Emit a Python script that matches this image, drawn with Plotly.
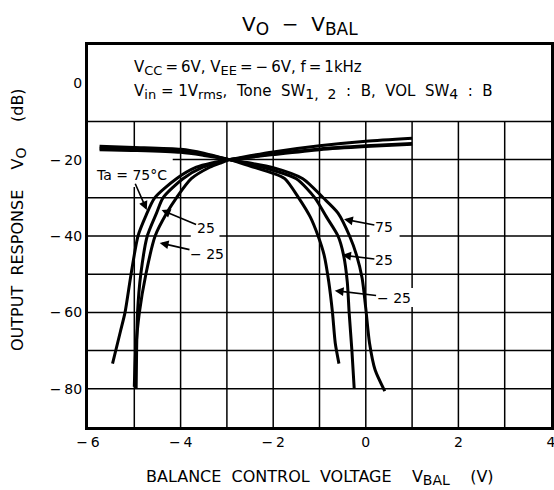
import plotly.graph_objects as go

# ---------------- data ----------------
# Right-channel curves: flat on the left, falling on the right
r75_x = [-5.75, -5.0, -4.0, -3.5, -2.95, -2.5, -2.0, -1.36, -0.92, -0.6, -0.35, -0.2, -0.08, 0.0, 0.08, 0.2, 0.41]
r75_y = [-16.5, -16.8, -17.3, -18.3, -20.0, -20.9, -22.1, -25.0, -30.0, -34.0, -40.0, -45.0, -51.0, -59.0, -68.0, -75.0, -80.6]
r25_x = [-5.75, -5.0, -4.0, -3.5, -2.95, -2.5, -2.0, -1.5, -1.1, -0.85, -0.6, -0.48, -0.4, -0.36, -0.3, -0.25]
r25_y = [-17.0, -17.2, -17.7, -18.6, -20.0, -21.2, -22.8, -25.0, -30.0, -35.0, -40.0, -45.0, -52.0, -60.0, -70.0, -80.0]
rm25_x = [-5.75, -5.0, -4.0, -3.5, -2.95, -2.5, -2.0, -1.75, -1.45, -1.2, -1.03, -0.9, -0.8, -0.72, -0.66, -0.58]
rm25_y = [-17.4, -17.6, -18.1, -18.9, -20.0, -21.7, -23.6, -25.0, -30.0, -35.0, -40.0, -45.0, -52.0, -60.0, -68.0, -73.4]

# Left-channel curves: rising on the left, flat on the right
l75_x = [-5.47, -5.3, -5.2, -5.07, -4.92, -4.76, -4.56, -4.09, -3.66, -3.3, -2.95, -2.5, -2.0, -1.0, 0.0, 1.0]
l75_y = [-73.4, -65.0, -60.0, -50.0, -40.0, -35.0, -30.0, -25.0, -22.0, -20.8, -20.0, -19.0, -18.0, -16.4, -15.2, -14.4]
l25_x = [-4.96, -4.95, -4.93, -4.86, -4.72, -4.52, -4.38, -3.95, -3.52, -3.2, -2.95, -2.5, -2.0, -1.0, 0.0, 1.0]
l25_y = [-79.9, -70.0, -60.0, -50.0, -40.0, -34.0, -30.0, -25.0, -22.0, -20.8, -20.0, -19.3, -18.5, -17.2, -16.4, -15.8]
lm25_x = [-5.0, -4.97, -4.89, -4.75, -4.55, -4.3, -4.09, -3.77, -3.37, -3.1, -2.95, -2.5, -2.0, -1.0, 0.0, 1.0]
lm25_y = [-79.5, -70.0, -60.0, -50.0, -40.0, -34.0, -30.0, -25.0, -22.0, -20.7, -20.0, -19.4, -18.7, -17.4, -16.6, -16.0]

x_tickvals = [-6, -4, -2, 0, 2, 4]
x_ticktext = ["\u2212\u20096", "\u2212\u20094", "\u2212\u20092", "0", "2", "4"]
y_tickvals = [0, -20, -40, -60, -80]
y_ticktext = ["0", "\u2212\u200920", "\u2212\u200940", "\u2212\u200960", "\u2212\u200980"]
x_grid = [-5, -4, -3, -2, -1, 0, 1, 2, 3]
y_grid = [-10, -20, -30, -40, -50, -60, -70, -80]

FONT = "DejaVu Sans"
W, H = 554, 490
ML, MR, MT, MB = 88, 3, 45, 63
XR = (-6, 4)
YR = (-90, 10)
NB = "\u00a0"
TS = "\u2009"

fig = go.Figure()
for xs, ys in [(r75_x, r75_y), (r25_x, r25_y), (rm25_x, rm25_y),
               (l75_x, l75_y), (l25_x, l25_y), (lm25_x, lm25_y)]:
    fig.add_trace(go.Scatter(x=xs, y=ys, mode="lines",
                             line=dict(color="black", width=3, shape="spline", smoothing=0.7),
                             showlegend=False, hoverinfo="skip"))

shapes = []
for gx in x_grid:
    shapes.append(dict(type="line", xref="x", yref="y", x0=gx, x1=gx, y0=-90, y1=-10,
                       line=dict(color="black", width=1.5), layer="below"))
for gy in y_grid:
    shapes.append(dict(type="line", xref="x", yref="y", x0=-6, x1=4, y0=gy, y1=gy,
                       line=dict(color="black", width=1.5), layer="below"))
# white masks behind labels (break the grid like the reference)
masks = [(-6, -4.17, -18.0, -27.2), (-3.78, -3.16, -35.6, -40.5), (-3.85, -3.03, -43.4, -48.7),
         (0.08, 0.73, -35.1, -40.8), (0.08, 0.73, -43.7, -48.9), (0.12, 1.03, -53.6, -58.6)]
for x0, x1, y0, y1 in masks:
    shapes.append(dict(type="rect", xref="x", yref="y", x0=x0, x1=x1, y0=y0, y1=y1,
                       fillcolor="white", line=dict(width=0), layer="below"))


def sub(t, size):
    return f'<sub><span style="font-size:{size}px">{t}</span></sub>'


annotations = []


def label(text, x, y, hx, hy, size=14):
    # text centred at (x, y); arrow from the text box to the curve point (hx, hy)
    annotations.append(dict(text=text, x=hx, y=hy, ax=x, ay=y, xref="x", yref="y",
                            axref="x", ayref="y", showarrow=True, arrowhead=2,
                            arrowsize=1.1, arrowwidth=1.6, arrowcolor="black",
                            borderpad=0,
                            font=dict(family=FONT, size=size, color="black")))


label("Ta = 75\u00b0C", -5.06, -24.1, -4.73, -33.2)
label("25", -3.46, -38.0, -4.41, -33.2)
label("\u2212 25", -3.43, -44.6, -4.45, -41.8)
label("75", 0.39, -37.6, -0.47, -35.6)
label("25", 0.39, -46.3, -0.51, -45.0)
label("\u2212 25", 0.6, -56.1, -0.67, -54.3)

# header text
line1 = ("V" + sub("CC", 13) + TS + "=" + TS + "6V, V" + sub("EE", 13) + TS + "=" + TS + "\u2212" + TS
         + "6V, f" + TS + "=" + TS + "1kHz")
line2 = ("V" + sub("in", 13) + " = 1V" + sub("rms", 13) + "," + NB + NB + "Tone" + NB + NB + "SW"
         + sub("1," + NB + NB + "2", 14) + NB + NB + ":" + NB + NB + "B," + NB + NB + "VOL" + NB + NB + "SW"
         + sub("4", 14) + NB + NB + ":" + NB + NB + "B")
annotations.append(dict(text=line1, x=-5.06, y=4.0, xref="x", yref="y", showarrow=False,
                        xanchor="left", yanchor="middle",
                        font=dict(family=FONT, size=15, color="black")))
annotations.append(dict(text=line2, x=-5.06, y=-2.3, xref="x", yref="y", showarrow=False,
                        xanchor="left", yanchor="middle",
                        font=dict(family=FONT, size=15, color="black")))

# axis titles and title as annotations (pixel-positioned in window coordinates)
pw, ph = W - ML - MR, H - MT - MB


def px2paper(px, py):
    return (px - ML) / pw, (H - MB - py) / ph


tx, ty = px2paper(300, 25)
annotations.append(dict(text="V" + sub("O", 17) + "  \u2212  V" + sub("BAL", 17), x=tx, y=ty,
                        xref="paper", yref="paper",
                        showarrow=False, xanchor="center", yanchor="middle",
                        font=dict(family=FONT, size=20, color="black")))
bx, by = px2paper(320, 477)
annotations.append(dict(text="BALANCE" + NB * 2 + "CONTROL" + NB * 2 + "VOLTAGE" + NB * 4 + "V" + sub("BAL", 14)
                        + NB * 4 + "(V)",
                        x=bx, y=by, xref="paper", yref="paper", showarrow=False,
                        xanchor="center", yanchor="middle",
                        font=dict(family=FONT, size=16, color="black")))
lx, ly = px2paper(19, 220)
annotations.append(dict(text="OUTPUT" + NB * 2 + "RESPONSE" + NB * 4 + "V" + sub("O", 14)
                        + NB * 5 + "(dB)",
                        x=lx, y=ly, xref="paper", yref="paper", showarrow=False,
                        textangle=-90, xanchor="center", yanchor="middle",
                        font=dict(family=FONT, size=16, color="black")))

fig.update_layout(
    width=W, height=H,
    margin=dict(l=ML, r=MR, t=MT, b=MB, pad=0, autoexpand=False),
    paper_bgcolor="white", plot_bgcolor="white",
    shapes=shapes, annotations=annotations,
    font=dict(family=FONT, size=14, color="black"),
    xaxis=dict(range=list(XR), showgrid=False, zeroline=False, showline=True, mirror=True,
               linecolor="black", linewidth=3, tickvals=x_tickvals, ticktext=x_ticktext,
               ticks="", automargin=False, ticklabeloverflow="allow",
               tickfont=dict(family=FONT, size=14, color="black")),
    yaxis=dict(range=list(YR), showgrid=False, zeroline=False, showline=True, mirror=True,
               linecolor="black", linewidth=3, tickvals=y_tickvals, ticktext=y_ticktext,
               ticks="", automargin=False, ticklabeloverflow="allow",
               tickfont=dict(family=FONT, size=14, color="black")),
)
# remove the default 8px page margin so the figure fills the 554x490 window exactly
fig.write_html("out.html", config={"displayModeBar": False, "staticPlot": True},
               post_script="document.body.style.margin='0';document.body.style.overflow='hidden';")
